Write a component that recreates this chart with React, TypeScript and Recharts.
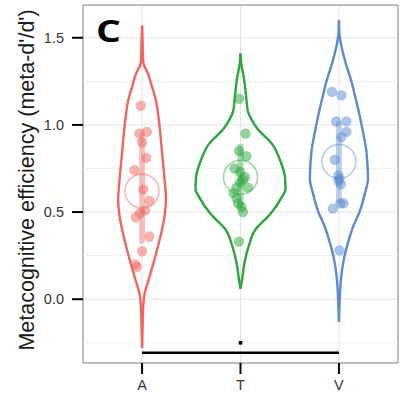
import React from 'react';
import {
  ComposedChart,
  Scatter,
  XAxis,
  YAxis,
  CartesianGrid,
  ReferenceLine,
  ReferenceArea,
  Label
} from 'recharts';

const categories = ['A', 'T', 'V'];
const colors = ['#EE665F', '#2AA63A', '#5A8AD3'];

const yTicks = [0, 0.5, 1, 1.5];
const yMinor = [-0.25, 0.25, 0.75, 1.25];

// violin outlines: levels (meta-d'/d') and half widths (category units)
const violinAValues = [1.57, 1.49, 1.36, 1.29, 1.22, 1.15, 1.03, 0.84, 0.69, 0.57, 0.48, 0.3, 0.2, 0.11, 0.03, -0.06, -0.18, -0.28];
const violinAWidths = [0, 0.005, 0.012, 0.064, 0.1, 0.137, 0.17, 0.203, 0.228, 0.243, 0.229, 0.16, 0.112, 0.066, 0.025, 0.01, 0.005, 0];

const violinTValues = [1.41, 1.35, 1.27, 1.17, 1.08, 1.03, 0.98, 0.89, 0.79, 0.7, 0.63, 0.59, 0.49, 0.4, 0.3, 0.21, 0.11, 0.06];
const violinTWidths = [0, 0.008, 0.034, 0.056, 0.074, 0.112, 0.17, 0.322, 0.407, 0.452, 0.457, 0.424, 0.305, 0.152, 0.081, 0.041, 0.015, 0];

const violinVValues = [1.6, 1.52, 1.44, 1.35, 1.25, 1.16, 1.06, 0.96, 0.87, 0.77, 0.69, 0.61, 0.51, 0.41, 0.32, 0.23, 0.11, 0.0, -0.13];
const violinVWidths = [0, 0.005, 0.03, 0.071, 0.127, 0.166, 0.208, 0.244, 0.274, 0.29, 0.295, 0.265, 0.215, 0.14, 0.09, 0.05, 0.02, 0.008, 0];

// subjects: jitter (category units) and value
const pointsAJitter = [-0.013, -0.027, 0.048, 0, 0.041, -0.078, 0.013, 0.074, 0.031, -0.02, -0.064, 0.074, 0, -0.071, -0.054];
const pointsAValues = [1.11, 0.95, 0.96, 0.9, 0.81, 0.74, 0.63, 0.565, 0.51, 0.495, 0.47, 0.36, 0.275, 0.2, 0.185];

const pointsTJitter = [-0.015, 0.051, -0.015, 0.061, -0.061, -0.005, 0.046, 0.025, -0.041, 0.076, -0.005, -0.071, -0.041, -0.025, 0.01, 0.025, -0.015];
const pointsTValues = [1.15, 0.95, 0.85, 0.82, 0.75, 0.73, 0.7, 0.685, 0.64, 0.64, 0.67, 0.61, 0.58, 0.55, 0.53, 0.5, 0.33];

const pointsVJitter = [-0.071, 0.025, -0.03, 0.076, 0.076, 0.025, -0.041, -0.005, 0.005, 0.02, -0.005, -0.061, 0.015, 0.046, 0.005];
const pointsVValues = [1.19, 1.17, 1.02, 1.02, 0.96, 0.93, 0.8, 0.71, 0.69, 0.66, 0.68, 0.52, 0.55, 0.55, 0.28];

const means = [0.62, 0.7, 0.79];
const barLow = [0.32, 0.52, 0.55];
const barHigh = [0.95, 0.89, 1.02];

const sigLineY = -0.307;
const sigMarkY = -0.25;

const violinValues = [violinAValues, violinTValues, violinVValues];
const violinWidths = [violinAWidths, violinTWidths, violinVWidths];
const pointJitter = [pointsAJitter, pointsTJitter, pointsVJitter];
const pointValues = [pointsAValues, pointsTValues, pointsVValues];

const halfOutline = (i: number, side: number) =>
  violinValues[i].map((v, k) => ({ x: i + 1 + side * violinWidths[i][k], y: v }));

const pointRows = (i: number) =>
  pointValues[i].map((v, k) => ({ x: i + 1 + pointJitter[i][k], y: v }));

const font = '"Liberation Sans", Arial, sans-serif';

const YTitle = (props: any) => {
  const vb = props.viewBox || { x: 0, y: 5, width: 83, height: 358 };
  const cx = vb.x + 33.5;
  const cy = vb.y + vb.height / 2 - 4;
  return (
    <text
      transform={`translate(${cx},${cy}) rotate(-90)`}
      textAnchor="middle"
      fontSize={21.5}
      fontFamily={font}
      fill="#1a1a1a"
    >
      Metacognitive efficiency (meta-d'/d')
    </text>
  );
};

const App = () => {
  return (
    <div style={{ position: 'absolute', left: 0, top: 0, width: 403, height: 400, background: '#fff' }}>
      <ComposedChart width={403} height={400} margin={{ top: 5, right: 5, left: 0, bottom: 0 }}>
        <CartesianGrid stroke="#E4E4E4" strokeWidth={1} />
        {yMinor.map((v) => (
          <ReferenceLine key={'m' + v} y={v} stroke="#F1F1F1" strokeWidth={1} />
        ))}
        <XAxis
          type="number"
          dataKey="x"
          domain={[0.4, 3.6]}
          allowDataOverflow
          ticks={[1, 2, 3]}
          tickFormatter={(v) => categories[v - 1]}
          height={37}
          axisLine={false}
          tickLine={{ stroke: '#000', strokeWidth: 2 }}
          tickSize={11}
          tickMargin={6}
          tick={{ fill: '#333', fontSize: 14.5, fontFamily: font }}
        />
        <YAxis
          type="number"
          dataKey="y"
          domain={[-0.366, 1.688]}
          allowDataOverflow
          ticks={yTicks}
          tickFormatter={(v) => v.toFixed(1)}
          width={83}
          axisLine={false}
          tickLine={{ stroke: '#000', strokeWidth: 2 }}
          tickSize={11}
          tickMargin={8}
          tick={{ fill: '#333', fontSize: 14.5, fontFamily: font }}
        >
          <Label content={YTitle} />
        </YAxis>

        {categories.map((c, i) => (
          <ReferenceLine
            key={'bar' + c}
            segment={[{ x: i + 1, y: barLow[i] }, { x: i + 1, y: barHigh[i] }]}
            stroke={colors[i]}
            strokeOpacity={0.4}
            strokeWidth={6}
          />
        ))}

        {categories.map((c, i) => (
          <Scatter
            key={'mean' + c}
            data={[{ x: i + 1, y: means[i] }]}
            isAnimationActive={false}
            shape={(p: any) => (
              <circle cx={p.cx} cy={p.cy} r={17} fill="none" stroke={colors[i]} strokeOpacity={0.45} strokeWidth={1.6} />
            )}
          />
        ))}

        {categories.map((c, i) => (
          <Scatter
            key={'pts' + c}
            data={pointRows(i)}
            isAnimationActive={false}
            shape={(p: any) => <circle cx={p.cx} cy={p.cy} r={5.2} fill={colors[i]} fillOpacity={0.5} />}
          />
        ))}

        {categories.map((c, i) =>
          [1, -1].map((side) => (
            <Scatter
              key={'vio' + c + side}
              data={halfOutline(i, side)}
              fill="none"
              line={{ stroke: colors[i], strokeWidth: 2.4 }}
              lineType="joint"
              lineJointType="monotoneY"
              isAnimationActive={false}
              shape={() => <g />}
            />
          ))
        )}

        <ReferenceLine
          segment={[{ x: 1, y: sigLineY }, { x: 3, y: sigLineY }]}
          stroke="#000"
          strokeWidth={2.5}
        />
        <Scatter
          data={[{ x: 2, y: sigMarkY }]}
          isAnimationActive={false}
          shape={(p: any) => <rect x={p.cx - 1.8} y={p.cy - 1.8} width={3.6} height={3.6} fill="#000" />}
        />

        <ReferenceArea x1={0.4} x2={3.6} y1={-0.366} y2={1.688} fill="none" fillOpacity={0} stroke="#8A8A8A" strokeWidth={1} />
      </ComposedChart>
      <svg width={403} height={400} style={{ position: 'absolute', left: 0, top: 0, pointerEvents: 'none' }}>
        <text
          transform="translate(96,41.5) scale(1.3,1)"
          fontSize={30}
          fontWeight="bold"
          fontFamily='"Open Sans", sans-serif'
          fill="#000"
        >
          C
        </text>
      </svg>
    </div>
  );
};

export default App;
